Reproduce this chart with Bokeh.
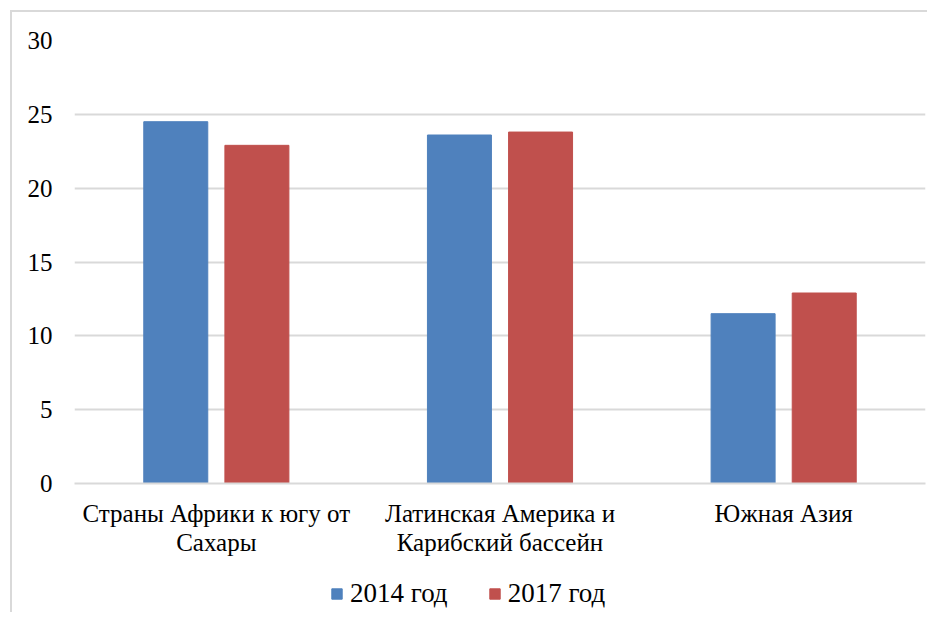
from bokeh.plotting import figure
from bokeh.models import FactorRange, Legend, LegendItem, ColumnDataSource, FixedTicker
from bokeh.layouts import column
from bokeh.transform import dodge
from bokeh.embed import file_html
from bokeh.resources import INLINE

categories = ["Страны Африки к югу от\nСахары", "Латинская Америка и\nКарибский бассейн", "Южная Азия"]
series_names = ["2014 год", "2017 год"]
values_2014 = [24.5, 23.6, 11.5]
values_2017 = [22.9, 23.8, 12.9]
y_ticks = [0, 5, 10, 15, 20, 25, 30]

FONT = "'Liberation Serif', serif"
FS = "25px"
BLUE = "#4F81BD"
RED = "#C0504D"
GRID = "#d9d9d9"

src = ColumnDataSource(dict(cat=categories, v14=values_2014, v17=values_2017))

p = figure(width=915, height=560, x_range=FactorRange(*categories), y_range=(0, 30),
           output_backend="svg", toolbar_location=None,
           min_border_left=62, min_border_right=2, min_border_top=28, min_border_bottom=89)
p.outline_line_color = None
p.x_range.range_padding = 0

r1 = p.vbar(x=dodge("cat", -0.143, range=p.x_range), top="v14", width=0.2256, source=src,
            fill_color=BLUE, line_color=BLUE)
r2 = p.vbar(x=dodge("cat", 0.143, range=p.x_range), top="v17", width=0.2256, source=src,
            fill_color=RED, line_color=RED)

p.xgrid.grid_line_color = None
p.ygrid.grid_line_color = GRID
p.ygrid.grid_line_width = 2
p.yaxis.ticker = FixedTicker(ticks=y_ticks)
p.yaxis.axis_line_color = None
p.yaxis.major_tick_line_color = None
p.yaxis.minor_tick_line_color = None
p.yaxis.major_tick_out = 0
p.yaxis.major_tick_in = 0
p.yaxis.major_label_standoff = 22
p.yaxis.major_label_text_font = FONT
p.yaxis.major_label_text_font_size = FS
p.yaxis.major_label_text_color = "black"

p.xaxis.axis_line_color = GRID
p.xaxis.axis_line_width = 2
p.xaxis.major_tick_line_color = None
p.xaxis.minor_tick_line_color = None
p.xaxis.major_tick_out = 0
p.xaxis.major_tick_in = 0
p.xaxis.major_label_standoff = 16
p.xaxis.major_label_text_font = FONT
p.xaxis.major_label_text_font_size = FS
p.xaxis.major_label_text_color = "black"
p.xaxis.major_label_text_line_height = 1.1

# legend in its own strip below the chart
leg = figure(width=915, height=40, output_backend="svg", toolbar_location=None,
             x_range=(0, 1), y_range=(0, 1), min_border=0)
leg.outline_line_color = None
leg.axis.visible = False
leg.grid.visible = False
l1 = leg.vbar(x=[0.5], top=[0.0], width=0.0, fill_color=BLUE, line_color=BLUE)
l2 = leg.vbar(x=[0.5], top=[0.0], width=0.0, fill_color=RED, line_color=RED)
legend = Legend(items=[LegendItem(label=series_names[0], renderers=[l1]),
                       LegendItem(label=series_names[1], renderers=[l2])],
                orientation="horizontal", location=(256, 3),
                glyph_width=13, glyph_height=13, label_standoff=7, spacing=40,
                padding=0, margin=0, border_line_color=None, background_fill_alpha=0,
                label_text_font=FONT, label_text_font_size="27px", label_text_color="black")
leg.add_layout(legend, "center")

layout = column(p, leg, spacing=0, margin=(10, 0, 0, 10),
                styles={"border-top": "2px solid #d9d9d9", "border-left": "2px solid #d9d9d9"})

open("out.html", "w").write(file_html(layout, INLINE))
